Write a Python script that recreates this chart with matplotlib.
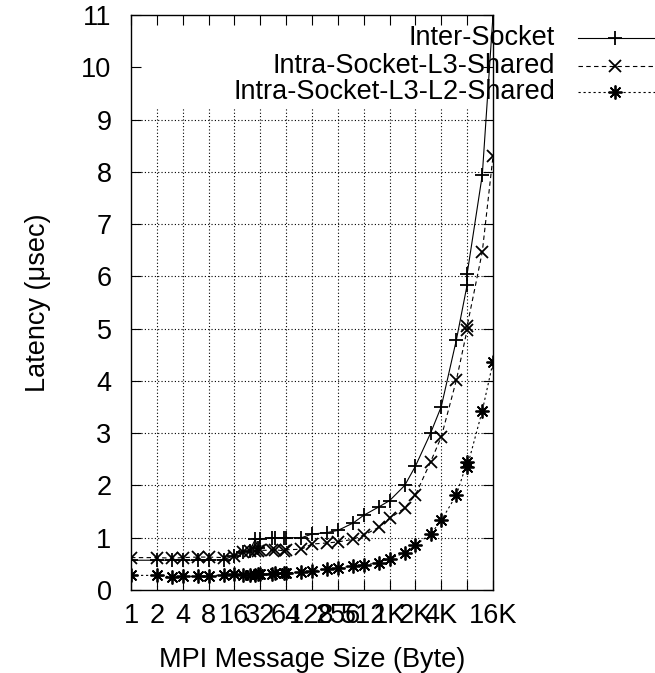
import numpy as np
import matplotlib
matplotlib.use("Agg")
import matplotlib.pyplot as plt
from matplotlib.lines import Line2D

# ======================================================
# 1. DATA
# ======================================================

sizes = [1, 2, 3, 4, 6, 8, 12,
         16, 20, 24, 28, 30, 32, 44, 48, 60, 64,
         96, 128, 192, 256, 384, 512, 768,
         1024, 1536, 2048, 3072, 4096, 6144,
         8192, 8192, 12288, 16384]

inter_socket = [0.57, 0.57, 0.57, 0.57, 0.57, 0.57, 0.58,
                0.66, 0.73, 0.75, 0.97, 0.80, 0.98, 1.00, 1.00, 1.00, 1.00,
                1.00, 1.07, 1.10, 1.14, 1.28, 1.43, 1.59,
                1.71, 2.00, 2.37, 3.00, 3.51, 4.79,
                5.84, 6.05, 7.94, 11.0]

intra_l3 = [0.62, 0.62, 0.61, 0.62, 0.63, 0.63, 0.62,
            0.66, 0.72, 0.74, 0.75, 0.75, 0.76, 0.76, 0.77, 0.75, 0.77,
            0.78, 0.88, 0.90, 0.92, 0.97, 1.05, 1.20,
            1.37, 1.57, 1.82, 2.45, 2.93, 4.02,
            4.98, 5.05, 6.47, 8.30]

intra_l3_l2 = [0.28, 0.28, 0.25, 0.26, 0.26, 0.27, 0.29,
               0.30, 0.29, 0.28, 0.29, 0.30, 0.30, 0.31, 0.32, 0.32, 0.33,
               0.34, 0.37, 0.40, 0.42, 0.46, 0.48, 0.52,
               0.60, 0.71, 0.86, 1.07, 1.33, 1.82,
               2.45, 2.35, 3.43, 4.36]

xtick_vals = [2 ** i for i in range(15)]
xtick_labels = ["1", "2", "4", "8", "16", "32", "64", "128", "256", "512",
                "1K", "2K", "4K", "", "16K"]

series_names = ["Inter-Socket", "Intra-Socket-L3-Shared", "Intra-Socket-L3-L2-Shared"]

# ======================================================
# 2. FIGURE
# ======================================================

plt.rcParams["font.family"] = ["Liberation Sans", "DejaVu Sans"]
FS = 19.5

fig = plt.figure(figsize=(6.55, 6.73), dpi=100)
ax = fig.add_axes([0.2, 0.1233, 0.5527, 0.8544])

ax.set_xscale("log", base=2)
ax.set_xlim(1, 16384)
ax.set_ylim(0, 11)

# grid (dotted), kept below the key area
grid_kw = dict(color="black", linewidth=0.8, linestyle=(0, (1, 2)), zorder=1)
for xv in xtick_vals[1:-1]:
    ax.plot([xv, xv], [0, 9.22], **grid_kw)
for yv in range(1, 10):
    ax.plot([1, 16384], [yv, yv], **grid_kw)

# ======================================================
# 3. SERIES
# ======================================================

styles = [
    dict(linestyle="-", marker="+", markersize=10),
    dict(linestyle=(0, (4, 3)), marker="x", markersize=8),
    dict(linestyle=(0, (2, 2.5)), marker=(8, 2, 0), markersize=10),
]
for ys, st in zip([inter_socket, intra_l3, intra_l3_l2], styles):
    ax.plot(sizes, ys, color="black", linewidth=0.8, markeredgewidth=1.3,
            zorder=3, **st)

# ======================================================
# 4. AXES, TICKS, LABELS
# ======================================================

ax.set_xticks(xtick_vals)
ax.set_xticklabels(xtick_labels)
ax.xaxis.set_minor_locator(matplotlib.ticker.NullLocator())
ax.set_yticks(range(0, 12))

ax.tick_params(direction="in", length=7, width=0.8, top=True, right=True,
               labelsize=FS)
ax.tick_params(axis="x", pad=9)
ax.tick_params(axis="y", pad=14)
for sp in ax.spines.values():
    sp.set_linewidth(1.0)

ax.set_xlabel("MPI Message Size (Byte)", fontsize=FS, labelpad=13)
ax.set_ylabel("Latency (\u03bcsec)", fontsize=FS, labelpad=22)

# ======================================================
# 5. KEY (gnuplot style, text right-aligned, samples on the right)
# ======================================================

key_y = [38, 66, 92]
for name, st, yp in zip(series_names, styles, key_y):
    yf = 1 - yp / 673
    fig.text(555 / 655, yf, name, ha="right", va="center", fontsize=FS)
    fig.add_artist(Line2D([578 / 655, 1.05], [yf, yf], color="black",
                          linewidth=0.8, linestyle=st["linestyle"],
                          transform=fig.transFigure))
    fig.add_artist(Line2D([615 / 655], [yf], color="black", linestyle="none",
                          marker=st["marker"], markersize=st["markersize"],
                          markeredgewidth=1.3, transform=fig.transFigure))

# ======================================================
# 6. SAVE
# ======================================================

plt.savefig("out.png", dpi=100)
